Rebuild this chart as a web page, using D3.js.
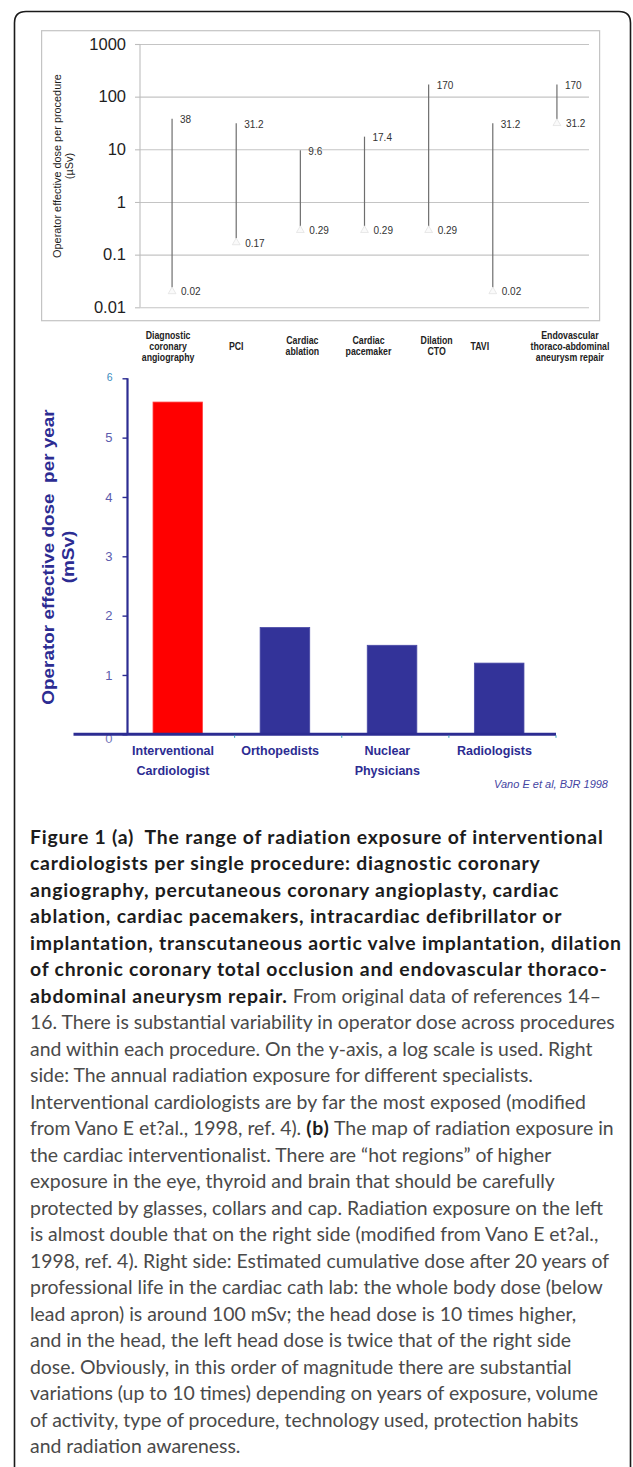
<!DOCTYPE html>
<html><head><meta charset="utf-8">
<script src="https://cdn.jsdelivr.net/npm/d3@7"></script>
<style>body{margin:0;background:#fff;} svg{display:block}</style>
</head><body><svg id="c" width="633" height="1467"></svg>
<script>
// ---------- data ----------
const procNames = ["Diagnostic coronary angiography","PCI","Cardiac ablation","Cardiac pacemaker","Dilation CTO","TAVI","Endovascular thoraco-abdominal aneurysm repair"];
const procLabelLines = [["Diagnostic","coronary","angiography"],["PCI"],["Cardiac","ablation"],["Cardiac","pacemaker"],["Dilation","CTO"],["TAVI"],["Endovascular","thoraco-abdominal","aneurysm repair"]];
const doseHigh = [38, 31.2, 9.6, 17.4, 170, 31.2, 170];
const doseLow  = [0.02, 0.17, 0.29, 0.29, 0.29, 0.02, 31.2];
const highLabels = ["38","31.2","9.6","17.4","170","31.2","170"];
const lowLabels  = ["0.02","0.17","0.29","0.29","0.29","0.02","31.2"];
const logTicks = [1000, 100, 10, 1, 0.1, 0.01];
const logTickLabels = ["1000","100","10","1","0.1","0.01"];

const specialists = ["Interventional Cardiologist","Orthopedists","Nuclear Physicians","Radiologists"];
const specLabelLines = [["Interventional","Cardiologist"],["Orthopedists"],["Nuclear","Physicians"],["Radiologists"]];
const annualDose = [5.6, 1.8, 1.5, 1.2];
const linTicks = [0, 1, 2, 3, 4, 5, 6];

const captionLines = [
  [["Figure 1 (a)  The range of radiation exposure of interventional",1]],
  [["cardiologists per single procedure: diagnostic coronary",1]],
  [["angiography, percutaneous coronary angioplasty, cardiac",1]],
  [["ablation, cardiac pacemakers, intracardiac defibrillator or",1]],
  [["implantation, transcutaneous aortic valve implantation, dilation",1]],
  [["of chronic coronary total occlusion and endovascular thoraco-",1]],
  [["abdominal aneurysm repair.",1],[" From original data of references 14\u2013",0]],
  [["16. There is substantial variability in operator dose across procedures",0]],
  [["and within each procedure. On the y-axis, a log scale is used. Right",0]],
  [["side: The annual radiation exposure for different specialists.",0]],
  [["Interventional cardiologists are by far the most exposed (modified",0]],
  [["from Vano E et?al., 1998, ref. 4). ",0],["(b)",1],[" The map of radiation exposure in",0]],
  [["the cardiac interventionalist. There are \u201chot regions\u201d of higher",0]],
  [["exposure in the eye, thyroid and brain that should be carefully",0]],
  [["protected by glasses, collars and cap. Radiation exposure on the left",0]],
  [["is almost double that on the right side (modified from Vano E et?al.,",0]],
  [["1998, ref. 4). Right side: Estimated cumulative dose after 20 years of",0]],
  [["professional life in the cardiac cath lab: the whole body dose (below",0]],
  [["lead apron) is around 100 mSv; the head dose is 10 times higher,",0]],
  [["and in the head, the left head dose is twice that of the right side",0]],
  [["dose. Obviously, in this order of magnitude there are substantial",0]],
  [["variations (up to 10 times) depending on years of exposure, volume",0]],
  [["of activity, type of procedure, technology used, protection habits",0]],
  [["and radiation awareness.",0]]
];

// ---------- drawing ----------
const svg = d3.select("#c");
const SANS = "'Liberation Sans', Arial, sans-serif";

// outer frame
svg.append("path")
  .attr("d", "M14.5,1480 L14.5,23 Q14.5,11.5 26,11.5 L619,11.5 Q630.5,11.5 630.5,23 L630.5,1480")
  .attr("fill","none").attr("stroke","#1a1a1a").attr("stroke-width",1.6);

// ===== chart (a) top =====
const gTop = svg.append("g");
gTop.append("rect").attr("x",41.6).attr("y",30.7).attr("width",558).attr("height",290)
  .attr("fill","none").attr("stroke","#c4c4c4").attr("stroke-width",1.2);

const yL = d3.scaleLog().domain([0.01,1000]).range([307.3,44]);
const xP = d3.scaleBand().domain(procNames).range([140,589]);

// gridlines
gTop.append("g").attr("transform","translate(140,0)")
  .call(d3.axisLeft(yL).tickValues(logTicks).tickSize(-449).tickFormat(""))
  .call(g=>g.select(".domain").remove())
  .call(g=>g.selectAll("line").attr("stroke","#c4c4c4").attr("stroke-width",1.1));
// axis with ticks + labels
gTop.append("g").attr("transform","translate(140,0)")
  .call(d3.axisLeft(yL).tickValues(logTicks).tickSize(5).tickPadding(9)
        .tickFormat((d,i)=>logTickLabels[i]))
  .call(g=>g.select(".domain").attr("stroke","#bdbdbd").attr("stroke-width",1.1).attr("d","M0,44V307.3"))
  .call(g=>g.selectAll("line").attr("stroke","#bdbdbd").attr("stroke-width",1.1))
  .call(g=>g.selectAll("text").attr("font-family",SANS).attr("font-size",16.5).attr("fill","#1e1e1e"));

// y title
const ytA = gTop.append("text").attr("transform","translate(61,166) rotate(-90)")
  .attr("text-anchor","middle").attr("font-family",SANS).attr("font-size",10.9).attr("fill","#1e1e1e");
ytA.append("tspan").attr("x",0).attr("dy",0).text("Operator effective dose per procedure");
ytA.append("tspan").attr("x",0).attr("dy",11.5).text("(\u00b5Sv)");

// range lines
const cx = d => xP(procNames[d]) + xP.bandwidth()/2;
const idx = d3.range(procNames.length);
gTop.append("g").selectAll("line").data(idx).join("line")
  .attr("x1",cx).attr("x2",cx)
  .attr("y1",i=>yL(doseHigh[i])).attr("y2",i=>yL(doseLow[i])-4)
  .attr("stroke","#6e6e6e").attr("stroke-width",1.2);
gTop.append("g").selectAll("path").data(idx).join("path")
  .attr("d", d3.symbol(d3.symbolTriangle, 26))
  .attr("transform", i=>`translate(${cx(i)},${yL(doseLow[i])})`)
  .attr("fill","#fafafa").attr("stroke","#e2e2e2").attr("stroke-width",0.8);
gTop.append("g").selectAll("text.hi").data(idx).join("text")
  .attr("x",i=>cx(i)+8).attr("y",i=>yL(doseHigh[i])+1)
  .attr("dominant-baseline","central")
  .attr("font-family",SANS).attr("font-size",10).attr("fill","#333")
  .text(i=>highLabels[i]);
gTop.append("g").selectAll("text.lo").data(idx).join("text")
  .attr("x",i=>cx(i)+9).attr("y",i=>yL(doseLow[i])+0.5)
  .attr("dominant-baseline","central")
  .attr("font-family",SANS).attr("font-size",10).attr("fill","#333")
  .text(i=>lowLabels[i]);

// category labels (condensed bold)
const catDx = [-4, 0, 2, 4, 8, -13, 13];
const cl = gTop.append("g").selectAll("text").data(idx).join("text")
  .attr("transform", i=>`translate(${cx(i)+catDx[i]},0) scale(0.86,1)`)
  .attr("text-anchor","middle").attr("font-family",SANS).attr("font-weight","bold")
  .attr("font-size",10.2).attr("fill","#222");
cl.each(function(i){
  const lines = procLabelLines[i];
  const t = d3.select(this);
  const y0 = 346 - (lines.length-1)*11/2;
  lines.forEach((s,k)=>t.append("tspan").attr("x",0).attr("y",y0+k*11)
     .attr("dominant-baseline","central").text(s));
});

// ===== chart right (annual dose) =====
const gBot = svg.append("g");
const yB = d3.scaleLinear().domain([0,6]).range([734.3,378.3]);
const xB = d3.scaleBand().domain(specialists).range([127.5,556]);
const bw = xB.bandwidth();
const navy = "#2c2c92";

gBot.append("g").selectAll("rect").data(specialists).join("rect")
  .attr("x",d=>xB(d)+bw*0.238).attr("width",bw*0.463)
  .attr("y",(d,i)=>yB(annualDose[i])).attr("height",(d,i)=>yB(0)-yB(annualDose[i]))
  .attr("fill",(d,i)=>i===0?"#ff0000":"#333399")
  .attr("stroke",(d,i)=>i===0?"#ff4a4a":"#4a4aa6").attr("stroke-width",0.8);

// y axis
gBot.append("g").attr("transform","translate(127.5,0)")
  .call(d3.axisLeft(yB).tickValues(linTicks).tickSize(5).tickPadding(10).tickFormat(d3.format("d")))
  .call(g=>g.select(".domain").attr("stroke",navy).attr("stroke-width",2.2).attr("d","M0,378.3V734.3"))
  .call(g=>g.selectAll("line").attr("stroke",navy).attr("stroke-width",1.4))
  .call(g=>g.selectAll("text").attr("font-family",SANS).attr("font-size",13).attr("fill","#5c5cae"))
  .call(g=>g.selectAll(".tick").filter(d=>d===6).select("text").attr("fill","#3a8cc0").attr("font-size",10.5).attr("dy","0.2em"))
  .call(g=>g.selectAll(".tick").filter(d=>d===0).select("text").attr("dy","0.6em").attr("fill","#7777bb"));

// x axis line
gBot.append("line").attr("x1",73.5).attr("x2",556).attr("y1",yB(0)).attr("y2",yB(0))
  .attr("stroke",navy).attr("stroke-width",3);
gBot.append("g").selectAll("line").data(specialists).join("line")
  .attr("x1",d=>xB(d)+bw).attr("x2",d=>xB(d)+bw)
  .attr("y1",yB(0)+1).attr("y2",yB(0)+3.5)
  .attr("stroke","#3aa0b8").attr("stroke-width",1);

// y title (stretched along its length like the reference)
const ytB = gBot.append("text").attr("transform","translate(53.5,557) rotate(-90) scale(1.1,1)")
  .attr("text-anchor","middle").attr("font-family",SANS).attr("font-weight","bold")
  .attr("font-size",17.2).attr("fill",navy);
ytB.append("tspan").attr("x",0).attr("dy",0).text("Operator effective dose\u00a0 per year");
ytB.append("tspan").attr("x",0).attr("dy",21).text("(mSv)");

// x labels
const sl = gBot.append("g").selectAll("text").data(specialists).join("text")
  .attr("text-anchor","middle").attr("font-family",SANS).attr("font-weight","bold")
  .attr("font-size",12.5).attr("fill",navy);
sl.each(function(d,i){
  const t = d3.select(this);
  specLabelLines[i].forEach((s,k)=>t.append("tspan").attr("x",xB(d)+bw/2-8).attr("y",751+k*20)
    .attr("dominant-baseline","central").text(s));
});

// citation
gBot.append("text").attr("x",608).attr("y",784).attr("dominant-baseline","central")
  .attr("text-anchor","end").attr("font-family",SANS).attr("font-style","italic")
  .attr("font-size",11).attr("fill","#4545a2").text("Vano E et al, BJR 1998");

// ===== caption =====
const cap = svg.append("g");
const capText = cap.selectAll("text").data(captionLines).join("text")
  .attr("x",30).attr("y",(d,i)=>844+i*26.48)
  .attr("font-family","Lato, 'Open Sans', sans-serif").attr("font-size",18.6)
  .attr("xml:space","preserve");
capText.each(function(segs){
  const t = d3.select(this);
  segs.forEach(([s,b])=>t.append("tspan")
    .attr("class", b? "b":"r")
    .attr("font-weight", b? 700 : 400)
    .attr("fill", b? "#1c1c1c" : "#4a4a4a").text(s));
});
// fit caption width to the reference line widths
const nodes = capText.nodes();
const k = 585 / nodes[7].getComputedTextLength();         // regular line 8 ≈ 585px wide
const n1 = nodes[0].textContent.length, n5 = nodes[4].textContent.length;
const ls1 = (580/k - nodes[0].getComputedTextLength()) / n1; // bold line 1 ≈ 580px
const ls5 = (588/k - nodes[4].getComputedTextLength()) / n5; // bold line 5 ≈ 588px
cap.selectAll("tspan.b").attr("letter-spacing", Math.max(0,(ls1+ls5)/2));
cap.attr("transform",`translate(30,0) scale(${k},1) translate(-30,0)`);
</script></body></html>
